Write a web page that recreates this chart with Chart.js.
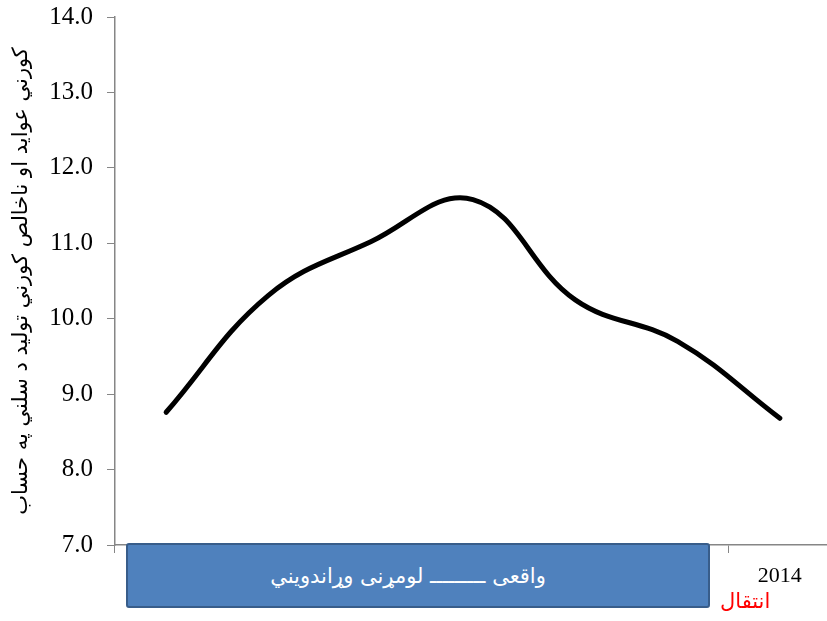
<!DOCTYPE html>
<html><head><meta charset="utf-8">
<script src="https://cdn.jsdelivr.net/npm/chart.js@4.4.0/dist/chart.umd.min.js"></script>
<style>
html,body{margin:0;padding:0;overflow:hidden;background:#fff;width:827px;height:621px}
#wrap{position:relative;width:835px;height:621px}
#legendBox{position:absolute;left:126px;top:543px;width:560px;padding-right:20px;height:61px;background:#4F81BD;border:2px solid #385D8A;border-radius:3px;color:#fff;font:21px 'DejaVu Sans';display:flex;align-items:center;justify-content:center;direction:rtl;box-sizing:content-box}
#note{position:absolute;left:720px;top:589px;color:#FF0000;font:21px 'DejaVu Sans';direction:rtl;white-space:nowrap}
</style></head><body>
<div id="wrap"><canvas id="c" width="835" height="621"></canvas>
<div id="legendBox"></div><div id="note"></div></div>
<script>
const categories = ['', '', '', '', '', '', '2014'];
const values = [8.76, 10.31, 11.02, 11.58, 10.25, 9.70, 8.68];
const yMin = 7, yMax = 14, yStep = 1;
const yTitle = 'کورني عوايد او ناخالص کورني توليد د سلني په حساب';
const legendText = 'واقعی ـــــــــ لومړنی وړاندويني';
const noteText = 'انتقال';

document.getElementById('legendBox').textContent = legendText;
document.getElementById('note').textContent = noteText;

new Chart(document.getElementById('c'), {
  type: 'line',
  data: {
    labels: categories,
    datasets: [{
      data: values,
      borderColor: '#000',
      borderWidth: 5,
      pointRadius: 0,
      tension: 0.4,
      fill: false,
      borderCapStyle: 'round'
    }]
  },
  options: {
    responsive: false,
    animation: false,
    layout: { padding: { top: 0, right: 4, left: 0, bottom: 0 } },
    plugins: { legend: { display: false }, tooltip: { enabled: false } },
    scales: {
      x: {
        offset: true,
        grid: { offset: true, drawOnChartArea: false, drawTicks: true, tickLength: 8, color: '#868686' },
        border: { color: '#868686', width: 1.5 },
        ticks: { autoSkip: false, maxRotation: 0, color: '#000', font: { family: 'Liberation Serif', size: 22 }, padding: 10 },
        afterFit: s => { s.height = 76; }
      },
      y: {
        min: yMin, max: yMax,
        ticks: { stepSize: yStep, callback: v => Number(v).toFixed(1), color: '#000', font: { family: 'Liberation Serif', size: 25 }, padding: 14 },
        grid: { drawOnChartArea: false, drawTicks: true, tickLength: 8, color: '#868686' },
        border: { color: '#868686', width: 1.5 },
        title: { display: true, text: yTitle, color: '#000', font: { family: 'DejaVu Sans', size: 21 }, padding: { top: 9, bottom: 0 } },
        afterFit: s => { s.width = 115; s.paddingTop = 17; s.paddingBottom = 0; }
      }
    }
  }
});
</script>
</body></html>
